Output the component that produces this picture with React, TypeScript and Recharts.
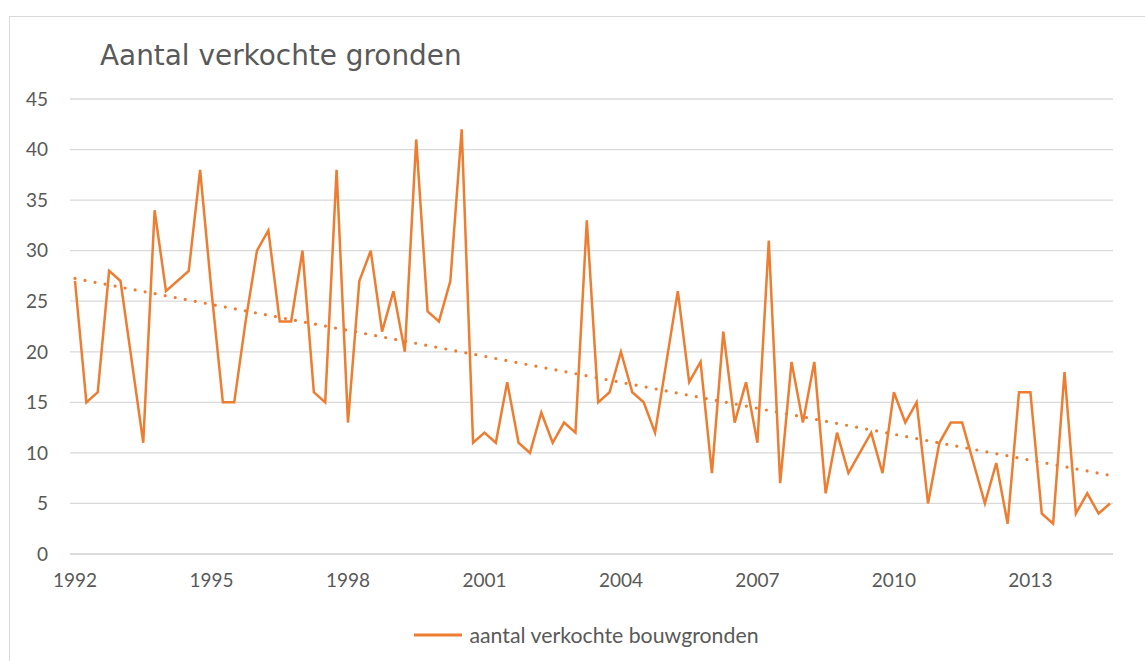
import { LineChart, Line, XAxis, YAxis, CartesianGrid, Legend, ReferenceLine } from 'recharts';

// quarterly counts, 1992 K1 .. 2014 K4
const years = [
  1992, 1993, 1994, 1995, 1996, 1997, 1998, 1999, 2000, 2001, 2002, 2003,
  2004, 2005, 2006, 2007, 2008, 2009, 2010, 2011, 2012, 2013, 2014,
];
const quarters = ['K1', 'K2', 'K3', 'K4'];
const categories = years.flatMap((y) => quarters.map((q) => `${y} ${q}`));

const verkocht = [
  27, 15, 16, 28, 27, 19, 11, 34, 26, 27, 28, 38,
  26, 15, 15, 23, 30, 32, 23, 23, 30, 16, 15, 38,
  13, 27, 30, 22, 26, 20, 41, 24, 23, 27, 42, 11,
  12, 11, 17, 11, 10, 14, 11, 13, 12, 33, 15, 16,
  20, 16, 15, 12, 19, 26, 17, 19, 8, 22, 13, 17,
  11, 31, 7, 19, 13, 19, 6, 12, 8, 10, 12, 8,
  16, 13, 15, 5, 11, 13, 13, 9, 5, 9, 3, 16,
  16, 4, 3, 18, 4, 6, 4, 5,
];

// linear trendline end values
const trendStart = 27.25;
const trendEnd = 7.78;

const yTicks = [0, 5, 10, 15, 20, 25, 30, 35, 40, 45];

const data = categories.map((c, i) => ({ periode: c, aantal: verkocht[i] }));

const ORANGE = '#ED7D31';
const GRID = '#D9D9D9';
const TEXT = '#595959';
const axisFont = { fontFamily: 'Lato', fontSize: 19, fill: TEXT };

const renderLegend = () => (
  <div style={{ display: 'flex', alignItems: 'center', justifyContent: 'center', height: 26 }}>
    <svg width={48} height={4} style={{ display: 'block' }}>
      <line x1={0} y1={2} x2={48} y2={2} stroke={ORANGE} strokeWidth={3} />
    </svg>
    <span style={{ marginLeft: 7, fontFamily: 'Lato', fontSize: 21.3, color: TEXT, lineHeight: '26px' }}>
      aantal verkochte bouwgronden
    </span>
  </div>
);

export default function App() {
  return (
    <div style={{ position: 'absolute', left: 0, top: 0, width: 1145, height: 661, background: '#fff', overflow: 'hidden' }}>
      <div
        style={{
          position: 'absolute',
          left: 9,
          top: 16,
          width: 1200,
          height: 700,
          border: `1px solid ${GRID}`,
        }}
      />
      <div
        style={{
          position: 'absolute',
          left: 100,
          top: 38,
          fontFamily: 'DejaVu Sans',
          fontSize: 27.9,
          color: TEXT,
          lineHeight: '36px',
          whiteSpace: 'nowrap',
        }}
      >
        Aantal verkochte gronden
      </div>
      <div style={{ position: 'absolute', left: 0, top: 0 }}>
        <LineChart width={1145} height={661} data={data} margin={{ top: 99, right: 32, left: 8, bottom: 51 }}>
          <CartesianGrid vertical={false} stroke={GRID} strokeWidth={1.3} />
          <XAxis
            dataKey="periode"
            interval={11}
            tickFormatter={(v: string) => v.slice(0, 4)}
            tick={axisFont}
            tickLine={false}
            axisLine={{ stroke: GRID, strokeWidth: 1.3 }}
            tickMargin={14}
            height={30}
            padding={{ left: 5, right: 3 }}
          />
          <YAxis
            domain={[0, 45]}
            ticks={yTicks}
            tick={axisFont}
            tickLine={false}
            axisLine={false}
            tickMargin={16}
            width={62}
          />
          <Line
            type="linear"
            dataKey="aantal"
            name="aantal verkochte bouwgronden"
            stroke={ORANGE}
            strokeWidth={2.5}
            dot={false}
            activeDot={false}
            isAnimationActive={false}
          />
          <ReferenceLine
            segment={[
              { x: categories[0], y: trendStart },
              { x: categories[categories.length - 1], y: trendEnd },
            ]}
            stroke={ORANGE}
            strokeWidth={3.2}
            strokeDasharray="0 10.2"
            strokeLinecap="round"
          />
          <Legend verticalAlign="bottom" content={renderLegend} wrapperStyle={{ left: 14, width: 1145, top: 622, bottom: 'auto' }} />
        </LineChart>
      </div>
    </div>
  );
}
